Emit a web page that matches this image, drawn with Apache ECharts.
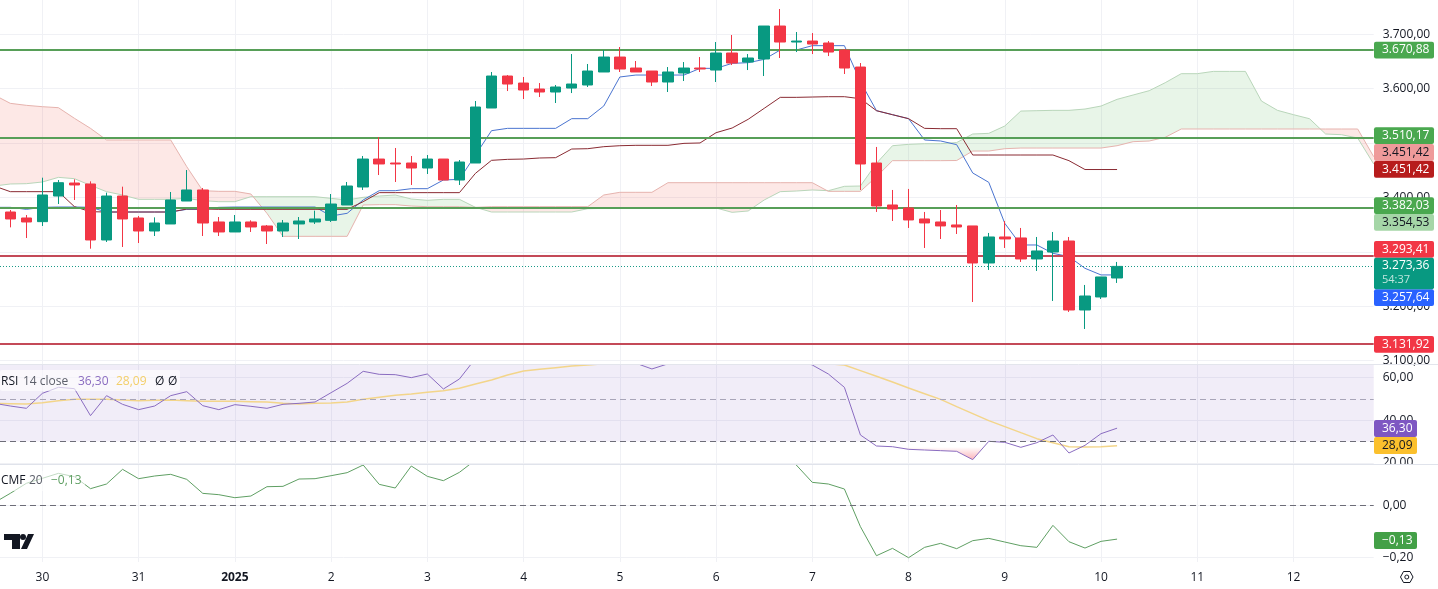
<!DOCTYPE html>
<html>
<head>
<meta charset="utf-8">
<style>html,body{margin:0;padding:0;background:#fff}#c{width:1438px;height:589px}</style>
<script src="https://cdn.jsdelivr.net/npm/echarts@6/dist/echarts.min.js"></script>
</head>
<body>
<div id="c"></div>
<script>
const dayLabels = ['30','31','2025','2','3','4','5','6','7','8','9','10','11','12'];

const opens = [3373.3,3362.3,3355.6,3402.7,3426.6,3424.8,3321.9,3402.7,3362.3,3338.4,
3351.3,3393.5,3413.8,3355,3336.6,3355,3347.6,3338.4,3351.3,3355,
3358,3386.2,3419.3,3470.7,3463.4,3463.4,3454.2,3470.7,3432.1,3463.4,
3564.5,3623.3,3610.4,3599.4,3593.9,3601.2,3606.8,3630.7,3658.2,3638,
3632.5,3612.3,3628.8,3638,3634.3,3665.6,3649,3654.6,3715.2,3685.8,
3687.6,3684,3671.1,3639.8,3463.4,3386.2,3380.7,3360.5,3355,3349.5,
3347.7,3279.6,3327.4,3325.6,3287,3299.8,3320,3193.2,3217.1,3252];
const closes = [3360.5,3355,3404.6,3427.2,3423,3321.9,3402.7,3360.5,3338.4,3353.1,
3395.4,3413.8,3353.1,3336.6,3355,3345.8,3338.4,3353.1,3356.8,3360.5,
3388,3421.1,3470.7,3461.6,3461.6,3454.2,3470.7,3432.1,3465.2,3566.3,
3623.3,3608.6,3597.6,3593.9,3603.1,3608.6,3632.5,3658.2,3636.2,3630.7,
3612.3,3630.7,3638,3636.2,3665.6,3647.2,3656.4,3715.2,3685.8,3687.6,
3682.1,3667.4,3638,3461.6,3384.4,3378.9,3358.7,3353.2,3347.7,3345.8,
3279.6,3327.4,3323.8,3287,3301.7,3320,3193.2,3218.9,3253.9,3273.36];
const lows = [3345.1,3325.5,3347.6,3388,3395.4,3305.9,3318.2,3309,3316.3,3329.2,
3351.3,3393.5,3329.2,3329.2,3336.6,3336.6,3314.5,3327.4,3323.7,3351.3,
3355,3386.2,3413.8,3441.3,3428.5,3423,3443.2,3432.1,3423,3463.4,
3564.5,3595.7,3581,3584.7,3573.7,3592,3603.1,3630.7,3630.7,3630.7,
3604.9,3593.9,3614.1,3630.7,3612.3,3643.5,3634.3,3623.3,3656.4,3667.4,
3663.7,3660,3627,3413.8,3373.4,3356.8,3344,3307.2,3323.7,3332.9,
3207.9,3266.8,3307.2,3281.5,3264.9,3209.8,3189.6,3158.3,3213.4,3242.9];
const highs = [3377,3367.8,3436.4,3432.1,3433.4,3429.7,3408.9,3419.9,3366,3363.5,
3410.1,3450.5,3417.4,3364.1,3367.8,3358,3349.4,3358.6,3364.1,3375.8,
3406.4,3428.5,3476.3,3511.2,3491,3476.3,3478.1,3470.7,3468.9,3577.4,
3630.7,3625.1,3621.5,3610.4,3606.8,3663.7,3645.4,3671.1,3676.6,3650.9,
3632.5,3639.8,3649,3658.2,3685.8,3698.7,3663.7,3715.2,3746.5,3704.2,
3702.3,3687.6,3672.9,3647.2,3492.9,3413.8,3415.7,3373.4,3377,3386.2,
3347.7,3334.8,3356.8,3344,3327.4,3336.6,3327.4,3239.2,3253.9,3281.5];

const tenkan = [3381.9,
3381.9,3378.2,3381.9,3382.5,3382.5,3382,3373.3,3373.3,3373.3,3373.3,
3373.3,3378.2,3378.2,3381.9,3382.5,3382.5,3382.5,3382.5,3382.5,3382.5,
3366,3370.9,3395.4,3412.5,3412.5,3416.2,3416.2,3432.1,3433.4,3478.1,
3522.8,3527.1,3527.1,3527.1,3527.1,3544.9,3544.9,3568.2,3621.5,3625.1,
3625.1,3625.1,3625.1,3637.4,3637.4,3646.6,3647.8,3653.9,3671.1,3671.1,
3679.1,3679.1,3679.1,3612.9,3559.6,3552.2,3544.9,3505.7,3503.9,3497.1,
3445.1,3427.9,3352.5,3312.7,3312.7,3297.4,3291.3,3269.8,3257.64,3257.64];
const kijun = [3421.1,
3410.7,3410.7,3410.7,3410.7,3383.1,3373.9,3373.3,3373.3,3373.3,3373.3,
3373.3,3378.8,3378.8,3378.2,3378.2,3378.2,3378.2,3378.2,3378.2,3378.2,
3378.2,3378.2,3392.3,3408.9,3408.9,3408.9,3408.9,3408.9,3408.9,3444.4,
3468.3,3470.1,3470.7,3472.6,3473.2,3489.1,3489.7,3493.4,3495.2,3495.9,
3495.9,3495.9,3499.5,3500.2,3519.1,3527.7,3543.7,3563.9,3584.1,3584.1,
3584.7,3585.3,3585.3,3581.6,3559.6,3552.2,3544.9,3527.1,3526.5,3526.5,
3478.1,3478.1,3478.1,3478.1,3478.1,3478.1,3467.7,3451.42,3451.42,3451.42];
const leadA = [3421.1,
3424.8,3425.4,3428.5,3437,3434.6,3422.3,3410.7,3404.6,3396.6,3396.6,
3396.6,3398.4,3394.2,3392.3,3392.3,3401.5,3401.5,3401.5,3401.5,3401.5,
3398.4,3395.4,3400.3,3402.7,3404.6,3397.2,3394.8,3396.6,3396.6,3381.9,
3373.3,3373.3,3373.3,3373.3,3373.3,3373.3,3379.4,3380,3380,3380,
3380,3380,3380,3381.3,3380.7,3372.7,3375.2,3395.4,3410.7,3411.9,
3413.8,3412.5,3420.5,3421.1,3462.8,3495.2,3497.7,3498.9,3498.9,3501,
3516.7,3517.9,3531.4,3558.9,3559.6,3560.2,3560.2,3562.6,3568.1,3580.4,
3588.4,3596.3,3611,3627.6,3627.6,3631.8,3631.8,3631.8,3577.3,3560.2,
3552.2,3544.8,3516.7,3515.4,3509.3,3461.5];
const leadB = [3588.4,
3573.1,3569.4,3566.9,3565.1,3545.5,3527.1,3505.7,3505.7,3505.7,3505.7,
3505.7,3456.7,3412.5,3411.3,3411.3,3406.4,3370.9,3328.6,3328.6,3328.6,
3328.6,3328.6,3386.2,3386.8,3386.8,3384.3,3383.1,3383.1,3383.1,3381.9,
3383.1,3383.1,3383.1,3383.1,3383.1,3383.1,3383.1,3404.6,3409.5,3409.5,
3409.5,3427.2,3427.2,3427.2,3427.2,3427.2,3427.2,3427.2,3427.2,3427.2,
3427.2,3411.3,3411.3,3411.3,3438.3,3467.7,3467.7,3467.7,3467.7,3468,
3485.4,3485.4,3489.7,3490.9,3490.9,3490.9,3490.9,3490.9,3490.9,3495.2,
3502.6,3503.8,3510.6,3525.9,3525.9,3525.9,3525.9,3525.9,3525.9,3525.9,
3525.9,3525.9,3525.9,3525.9,3525.9,3475];
const rsi = [47.97,
46.71,45.62,52.66,55.48,54.85,42.17,51.56,47.5,45,46.71,
51.56,53.44,46.87,45,47.34,46.56,45.62,47.5,47.97,48.59,
52.97,57.35,62.99,61.58,61.42,60.02,61.74,54.69,59.39,69,
73,74,73,72,72.5,74,75,77,75,66.8,
64.1,66.5,69,71,73,75,76,74,72,69,
65.96,61.74,55.48,33.1,27.93,27.6,26.37,26.06,25.74,25.43,
21.52,30.12,29.65,27.31,29.5,33.1,24.65,28.24,33.72,36.3];
const rsiMa = [47.97,
47.81,47.65,48.28,49.22,49.84,49.84,49.84,49.53,49.22,49.4,
49.53,49.22,48.9,48.9,48.9,48.75,48.59,47.97,47.65,47.97,
48.12,48.59,49.84,50.78,51.72,52.35,53.13,53.91,55,57.04,
58.92,61.27,63.15,63.93,64.71,65.49,65.96,66.5,67,67.5,
68,68.5,69,69.5,70,70,69.5,69,68.5,68,
67,66.5,65.96,63.3,60.64,57.98,55.16,52.5,49.84,46.4,
43.11,39.83,37.01,34.19,31.38,29.5,27.62,27.46,27.62,28.09];
const cmf = [0.01,
0.046,0.0845,0.1037,0.1229,0.1101,0.064,0.0819,0.1383,0.1024,0.1127,
0.1191,0.0998,0.046,0.0409,0.0293,0.0357,0.0716,0.0729,0.1011,0.1024,
0.1139,0.1255,0.155,0.0806,0.0665,0.1511,0.1114,0.0947,0.1268,0.1742,
0.2,0.22,0.21,0.2,0.21,0.23,0.25,0.26,0.25,0.24,
0.22,0.23,0.24,0.25,0.26,0.27,0.26,0.24,0.21,0.155,
0.0883,0.0819,0.0627,-0.0822,-0.1938,-0.1655,-0.2014,-0.1617,-0.1463,-0.1668,
-0.136,-0.1271,-0.1412,-0.1553,-0.1617,-0.0771,-0.1399,-0.1643,-0.1386,-0.13];

const greenLevels = [3670.88, 3510.17, 3382.03];
const redLevels = [3293.41, 3131.92];
const lastPrice = 3273.36;
const countdown = '54:37';

const priceTags = ['3.670,88','3.510,17','3.451,42','3.451,42','3.382,03','3.354,53','3.293,41','3.273,36','3.257,64','3.131,92'];
const indicatorTags = ['36,30','28,09','\u22120,13'];

// Time axis is in days since the first day tick; each candle is a sixth of a day.
const candleT = i => (i - 2) / 6;
const lineT = i => (i - 3) / 6;
const pts = arr => arr.map((v, i) => [lineT(i), v]);

const FONT = '"Open Sans", "Liberation Sans", sans-serif';
const UP = '#089981', DOWN = '#f23645';
const GRIDC = '#f0f1f5';

function fmt(v) {
  const neg = v < 0;
  const s = Math.abs(v).toFixed(2).replace('.', ',').replace(/\B(?=(\d{3})(?=,))/g, '.');
  return (neg ? '\u2212' : '') + s;
}

function cloudRuns() {
  const runs = [];
  let cur = null;
  leadA.forEach((a, i) => {
    const b = leadB[i], t = lineT(i), d = a - b, sign = d >= 0 ? 1 : -1;
    if (!cur) {
      cur = { sign, as: [], bs: [] };
      runs.push(cur);
    } else if (sign !== cur.sign) {
      const pa = leadA[i - 1], pd = pa - leadB[i - 1], r = pd / (pd - d);
      const pt = lineT(i - 1), tc = pt + r * (t - pt), vc = pa + r * (a - pa);
      cur.as.push([tc, vc]); cur.bs.push([tc, vc]);
      cur = { sign, as: [[tc, vc]], bs: [[tc, vc]] };
      runs.push(cur);
    }
    cur.as.push([t, a]); cur.bs.push([t, b]);
  });
  return runs;
}
const runs = cloudRuns();

function xAxisCfg(idx, showLabel) {
  return {
    type: 'value', gridIndex: idx, min: -0.4403, max: 13.8331, splitNumber: 14, minInterval: 1, maxInterval: 1,
    axisLine: { show: false }, axisTick: { show: false },
    splitLine: { show: true, showMinLine: false, showMaxLine: false, lineStyle: { color: GRIDC, width: 1 } },
    axisLabel: {
      show: showLabel, margin: 10, fontFamily: FONT, fontSize: 12, color: '#131722',
      showMinLabel: false, showMaxLabel: false,
      formatter: v => {
        const s = dayLabels[v];
        if (s === undefined) return '';
        return s === '2025' ? '{b|2025}' : s;
      },
      rich: { b: { fontFamily: FONT, fontSize: 12, fontWeight: 'bold', color: '#131722' } }
    }
  };
}
function yAxisCfg(idx, min, max, split, lift) {
  return {
    type: 'value', gridIndex: idx, position: 'right', min, max, splitNumber: split, scale: true,
    axisLine: { show: false }, axisTick: { show: false },
    splitLine: { show: true, showMinLine: false, showMaxLine: false, lineStyle: { color: GRIDC, width: 1 } },
    axisLabel: {
      margin: 9, align: 'left', fontFamily: FONT, fontSize: 12, color: '#131722',
      showMinLabel: false, showMaxLabel: false, padding: [0, 0, lift, 0],
      formatter: v => fmt(v)
    }
  };
}
function lineS(name, data, xi, color, width, z) {
  return {
    name, type: 'line', xAxisIndex: xi, yAxisIndex: xi, data, symbol: 'none', showSymbol: false,
    lineStyle: { color, width }, z, silent: true, connectNulls: false
  };
}
function levelS(name, vals, color, width, type, z) {
  return {
    name, type: 'line', xAxisIndex: 0, yAxisIndex: 0, data: [], symbol: 'none', z, silent: true,
    markLine: {
      silent: true, symbol: 'none', animation: false, precision: 2, label: { show: false },
      lineStyle: { color, width, type, opacity: 1 },
      data: vals.map(v => ({ yAxis: v }))
    }
  };
}

const RSI_MIN = 19.48, RSI_MAX = 65.96;

const series = [
  {
    name: 'Cloud', type: 'custom', xAxisIndex: 0, yAxisIndex: 0, z: 1, silent: true, clip: true,
    data: runs.map(r => [r.as[0][0], r.as[0][1]]),
    encode: { x: 0, y: 1 },
    renderItem: (params, api) => {
      const r = runs[params.dataIndex];
      const poly = r.as.concat(r.bs.slice().reverse()).map(p => api.coord(p));
      return {
        type: 'polygon', shape: { points: poly },
        style: { fill: r.sign > 0 ? 'rgba(76,175,80,0.13)' : 'rgba(242,80,60,0.13)', stroke: null }
      };
    }
  },
  lineS('Lead A', pts(leadA), 0, '#b9d6ba', 1, 2),
  lineS('Lead B', pts(leadB), 0, '#e6b3ae', 1, 2),
  levelS('Green levels', greenLevels, '#579f58', 2, 'solid', 3),
  levelS('Red levels', redLevels, '#c44a58', 2, 'solid', 3),
  levelS('Last price', [lastPrice], '#1a9a88', 1, [1, 2], 3),
  lineS('Tenkan', pts(tenkan), 0, '#4a74d0', 1, 4),
  lineS('Kijun', pts(kijun), 0, '#8a2b33', 1, 4),
  {
    name: 'Price', type: 'candlestick', xAxisIndex: 0, yAxisIndex: 0, z: 5, barWidth: 11, silent: true,
    encode: { x: 0, y: [1, 2, 3, 4] },
    data: opens.map((o, i) => [candleT(i), o, closes[i], lows[i], highs[i]]),
    itemStyle: { color: UP, color0: DOWN, borderColor: UP, borderColor0: DOWN, borderWidth: 1 }
  },
  {
    name: 'Oversold', type: 'line', xAxisIndex: 1, yAxisIndex: 1, symbol: 'none', z: 2, silent: true,
    data: rsi.map((v, i) => [lineT(i), v]).slice(55, 63),
    lineStyle: { width: 0 },
    areaStyle: {
      origin: 30, opacity: 1,
      color: new echarts.graphic.LinearGradient(0, 447, 0, 461, [
        { offset: 0, color: 'rgba(242,54,69,0)' }, { offset: 1, color: 'rgba(242,54,69,0.42)' }
      ], true)
    }
  },
  Object.assign(lineS('RSI', pts(rsi), 1, '#8a6cc0', 1, 4), {
    markArea: {
      silent: true, animation: false, itemStyle: { color: 'rgba(126,87,194,0.11)' }, label: { show: false },
      data: [[{ yAxis: RSI_MAX }, { yAxis: 30 }]]
    },
    markLine: {
      silent: true, symbol: 'none', animation: false, label: { show: false },
      data: [
        { yAxis: 50, lineStyle: { color: '#a8a5b8', width: 1, type: [6, 4], opacity: 1 } },
        { yAxis: 30, lineStyle: { color: '#6d6d78', width: 1, type: [6, 4], opacity: 1 } }
      ]
    }
  }),
  lineS('RSI MA', pts(rsiMa), 1, '#f3d58a', 1.5, 3),
  Object.assign(lineS('CMF', pts(cmf), 2, '#5f9f63', 1, 4), {
    markLine: {
      silent: true, symbol: 'none', animation: false, label: { show: false },
      data: [{ yAxis: 0, lineStyle: { color: '#6d6d78', width: 1, type: [6, 4], opacity: 1 } }]
    }
  })
];

// Overlay layout for the right-hand price tags and pane legends.
const tagBoxes = [
  [priceTags[0], 41.7, 16.7, 60, '#4aa84f', '#ffffff'],
  [priceTags[1], 127.3, 16.7, 60, '#4aa84f', '#ffffff'],
  [priceTags[2], 144, 17, 60, '#ef9a9a', '#131722'],
  [priceTags[3], 161, 16.7, 60, '#b71c1c', '#ffffff'],
  [priceTags[4], 197.3, 16.7, 60, '#4aa84f', '#ffffff'],
  [priceTags[5], 214, 16.7, 60, '#a5d6a7', '#131722'],
  [priceTags[6], 241, 16.7, 60, '#f23645', '#ffffff'],
  [priceTags[8], 289.3, 16.7, 60, '#2962ff', '#ffffff'],
  [priceTags[9], 336, 16.7, 60, '#f23645', '#ffffff'],
  [indicatorTags[0], 420, 17, 43, '#7e57c2', '#ffffff'],
  [indicatorTags[1], 437, 17, 43, '#fbc02d', '#131722'],
  [indicatorTags[2], 532, 17, 43, '#43a047', '#ffffff']
];
const g = [];
g.push({ type: 'rect', silent: true, z: 50, shape: { x: 1374, y: 464.6, width: 64, height: 8 }, style: { fill: '#fff' } });
g.push({ type: 'line', silent: true, z: 51, shape: { x1: 0, y1: 364.5, x2: 1438, y2: 364.5 }, style: { stroke: '#e3e5ec', lineWidth: 1 } });
g.push({ type: 'line', silent: true, z: 51, shape: { x1: 0, y1: 464.5, x2: 1438, y2: 464.5 }, style: { stroke: '#e0e3eb', lineWidth: 1 } });
tagBoxes.forEach(b => {
  g.push({ type: 'rect', silent: true, z: 60, shape: { x: 1374, y: b[1], width: b[3], height: b[2], r: 2 }, style: { fill: b[4] } });
  g.push({ type: 'text', silent: true, z: 61, x: 1382, y: b[1] + b[2] / 2, style: { text: b[0], fill: b[5], font: '12px ' + FONT, verticalAlign: 'middle' } });
});
g.push({ type: 'rect', silent: true, z: 60, shape: { x: 1374, y: 257.7, width: 60, height: 31.6, r: 2 }, style: { fill: UP } });
g.push({ type: 'text', silent: true, z: 61, x: 1382, y: 266, style: { text: priceTags[7], fill: '#fff', font: '12px ' + FONT, verticalAlign: 'middle' } });
g.push({ type: 'text', silent: true, z: 61, x: 1382, y: 280, style: { text: countdown, fill: '#bfe6de', font: '11px ' + FONT, verticalAlign: 'middle' } });

g.push({ type: 'rect', silent: true, z: 40, shape: { x: 0, y: 370, width: 180, height: 21, r: 2 }, style: { fill: 'rgba(255,255,255,0.62)' } });
g.push({ type: 'rect', silent: true, z: 40, shape: { x: 0, y: 471, width: 85, height: 20, r: 2 }, style: { fill: 'rgba(255,255,255,0.62)' } });
[
  ['RSI', 1, 382, '#131722'], ['14 close', 23, 382, '#5d606b'], ['36,30', 78, 382, '#8a6cc0'],
  ['28,09', 116, 382, '#f3cf6a'], ['\u00d8', 155, 382, '#131722'], ['\u00d8', 168, 382, '#131722'],
  ['CMF', 1, 481, '#131722'], ['20', 29, 481, '#5d606b'], ['\u22120,13', 51, 481, '#5f9f63']
].forEach(t => {
  g.push({ type: 'text', silent: true, z: 45, x: t[1], y: t[2], style: { text: t[0], fill: t[3], font: '12px ' + FONT, verticalAlign: 'middle' } });
});
[
  [[4, 534], [20, 534], [20, 549], [12, 549], [12, 540], [4, 540]],
  [[28, 534], [34, 534], [27, 549], [21, 549]]
].forEach(points => {
  g.push({ type: 'polygon', silent: true, z: 45, shape: { points }, style: { fill: '#131722' } });
});
g.push({ type: 'circle', silent: true, z: 45, shape: { cx: 23, cy: 537, r: 3 }, style: { fill: '#131722' } });
g.push({
  type: 'polygon', silent: true, z: 45,
  shape: { points: [[1400.5, 577], [1403.5, 571.5], [1410, 571.5], [1413, 577], [1410, 582.5], [1403.5, 582.5]] },
  style: { fill: 'none', stroke: '#131722', lineWidth: 1 }
});
g.push({ type: 'circle', silent: true, z: 45, shape: { cx: 1406.8, cy: 577, r: 2 }, style: { fill: 'none', stroke: '#131722', lineWidth: 1 } });

const chart = echarts.init(document.getElementById('c'), null, { renderer: 'canvas' });
chart.setOption({
  animation: false,
  backgroundColor: '#ffffff',
  tooltip: { show: false },
  textStyle: { fontFamily: FONT },
  grid: [
    { left: 0, right: 64.3, top: 0, height: 364.6 },
    { left: 0, right: 64.3, top: 365, height: 99 },
    { left: 0, right: 64.3, top: 465, height: 97 }
  ],
  xAxis: [xAxisCfg(0, false), xAxisCfg(1, false), xAxisCfg(2, true)],
  yAxis: [
    yAxisCfg(0, 3092.8, 3763.05, 7, 3),
    yAxisCfg(1, RSI_MIN, RSI_MAX, 2, 1),
    yAxisCfg(2, -0.218, 0.155, 2, 3)
  ],
  series,
  graphic: { elements: g }
});
</script>
</body>
</html>
